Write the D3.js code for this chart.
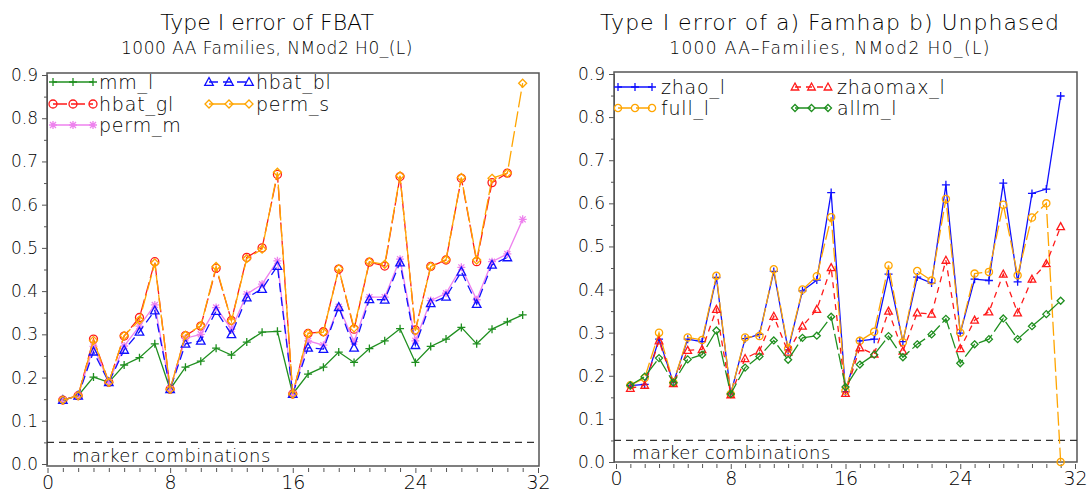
<!DOCTYPE html>
<html>
<head>
<meta charset="utf-8">
<script src="https://cdn.jsdelivr.net/npm/d3@7"></script>
<style>
  html, body { margin: 0; padding: 0; background: #fff; }
  svg { display: block; }
  text { font-family: "DejaVu Sans", "Liberation Sans", sans-serif; font-weight: 200; fill: #000; }
</style>
</head>
<body>
<svg id="chart" width="1089" height="493"></svg>
<script>
// ---------------- data ----------------
const combos = [1,2,3,4,5,6,7,8,9,10,11,12,13,14,15,16,17,18,19,20,21,22,23,24,25,26,27,28,29,30,31];
const xTickValues = [0, 8, 16, 24, 32];
const yTickValues = [0.0, 0.1, 0.2, 0.3, 0.4, 0.5, 0.6, 0.7, 0.8, 0.9];
const alphaLevel = 0.05;

// Left panel: FBAT
const mm_l    = [0.148,0.158,0.201,0.189,0.229,0.246,0.278,0.173,0.224,0.238,0.268,0.252,0.282,0.305,0.307,0.162,0.208,0.224,0.259,0.235,0.267,0.285,0.313,0.235,0.272,0.289,0.316,0.278,0.312,0.329,0.345];
const hbat_gl = [0.148,0.158,0.289,0.189,0.296,0.339,0.468,0.173,0.297,0.319,0.453,0.332,0.478,0.500,0.670,0.162,0.302,0.306,0.451,0.312,0.467,0.458,0.665,0.310,0.457,0.472,0.661,0.468,0.651,0.673,null];
const hbat_bl = [0.148,0.158,0.260,0.189,0.264,0.306,0.355,0.173,0.278,0.285,0.354,0.300,0.385,0.405,0.458,0.162,0.269,0.266,0.363,0.269,0.381,0.380,0.466,0.275,0.372,0.387,0.445,0.370,0.461,0.478,null];
const perm_m  = [0.148,0.158,0.272,0.189,0.273,0.319,0.368,0.173,0.291,0.300,0.362,0.312,0.393,0.416,0.470,0.162,0.285,0.275,0.364,0.283,0.386,0.386,0.474,0.285,0.378,0.395,0.455,0.380,0.468,0.486,0.566];
const perm_s  = [0.148,0.158,0.286,0.189,0.297,0.333,0.465,0.173,0.298,0.320,0.457,0.331,0.475,0.497,0.675,0.162,0.302,0.305,0.452,0.315,0.468,0.462,0.667,0.308,0.457,0.473,0.663,0.472,0.661,0.673,0.881];

// Right panel: Famhap / Unphased
const zhao_l    = [0.177,0.180,0.285,0.184,0.285,0.279,0.428,0.158,0.286,0.296,0.442,0.260,0.397,0.422,0.625,0.163,0.281,0.285,0.436,0.279,0.429,0.415,0.643,0.299,0.424,0.421,0.647,0.418,0.623,0.633,0.849];
const full_l    = [0.178,0.195,0.300,0.184,0.289,0.283,0.432,0.158,0.289,0.292,0.447,0.263,0.400,0.431,0.568,0.165,0.281,0.302,0.456,0.278,0.443,0.421,0.610,0.300,0.437,0.441,0.597,0.433,0.567,0.600,0.000];
const zhaomax_l = [0.171,0.178,0.281,0.182,0.259,0.261,0.354,0.156,0.240,0.257,0.338,0.255,0.315,0.354,0.451,0.159,0.265,0.250,0.350,0.257,0.346,0.343,0.468,0.263,0.329,0.348,0.436,0.346,0.424,0.460,0.546];
const allm_l    = [0.178,0.198,0.241,0.184,0.238,0.249,0.305,0.158,0.219,0.245,0.282,0.237,0.288,0.293,0.337,0.174,0.226,0.249,0.292,0.243,0.273,0.296,0.332,0.229,0.273,0.285,0.333,0.285,0.315,0.343,0.374];

const leftTitle = "Type I error of FBAT";
const leftSubtitle = "1000 AA Families, NMod2 H0_(L)";
const rightTitle = "Type I error of a) Famhap b) Unphased";
const rightSubtitle = "1000 AA\u2013Families, NMod2 H0_(L)";
const xLabelText = "marker combinations";

// ---------------- styling ----------------
const C = {green:"#1f8f1f", red:"#ff1a1a", blue:"#1010ff", violet:"#ee82ee", orange:"#ffa500"};

const svg = d3.select("#chart");

function markerPath(type, s) {
  const p = d3.path();
  if (type === "plus") {
    p.moveTo(-s,0); p.lineTo(s,0); p.moveTo(0,-s); p.lineTo(0,s);
  } else if (type === "star") {
    p.moveTo(-s,0); p.lineTo(s,0); p.moveTo(0,-s); p.lineTo(0,s);
    const d = s*0.75;
    p.moveTo(-d,-d); p.lineTo(d,d); p.moveTo(-d,d); p.lineTo(d,-d);
  } else if (type === "circle") {
    p.moveTo(s,0); p.arc(0,0,s,0,2*Math.PI);
  } else if (type === "triangle") {
    p.moveTo(0,-s); p.lineTo(s*0.95,s*0.75); p.lineTo(-s*0.95,s*0.75); p.closePath();
  } else if (type === "diamond") {
    p.moveTo(0,-s); p.lineTo(s,0); p.lineTo(0,s); p.lineTo(-s,0); p.closePath();
  }
  return p.toString();
}

function drawPanel(cfg) {
  const g = svg.append("g");
  const x = d3.scaleLinear().domain([0, 32]).range([cfg.x0, cfg.x1]);
  const y = d3.scaleLinear().domain([0, 0.9]).range([cfg.y0, cfg.y9]);

  // titles
  g.append("text").attr("x", cfg.titleX).attr("y", 30).attr("text-anchor", "middle")
    .style("font-size", "22px").style("letter-spacing", cfg.titleLS).text(cfg.title);
  g.append("text").attr("x", cfg.titleX).attr("y", 54).attr("text-anchor", "middle")
    .style("font-size", "17px").style("letter-spacing", cfg.subLS).text(cfg.subtitle);

  // frame
  g.append("rect").attr("x", cfg.fx0).attr("y", cfg.fy0)
    .attr("width", cfg.fx1 - cfg.fx0).attr("height", cfg.fy1 - cfg.fy0)
    .attr("fill", "none").attr("stroke", "#555").attr("stroke-width", 1.5);

  // y axis
  const yAxis = d3.axisLeft(y).tickValues(yTickValues).tickFormat(cfg.yFmt).tickSize(5).tickPadding(4);
  const ya = g.append("g").attr("transform", `translate(${cfg.fx0},0)`).call(yAxis);
  ya.select(".domain").attr("stroke", "#555");
  ya.selectAll(".tick line").attr("stroke", "#555");
  ya.selectAll("text").style("font-size", "17px").attr("fill", "#000")
    .style("font-family", "DejaVu Sans, sans-serif").style("font-weight", "200");
  const yMinor = d3.axisLeft(y).tickValues(yTickValues.map(v => v + 0.05).filter(v => v < 0.9)).tickFormat("").tickSize(3);
  const ym = g.append("g").attr("transform", `translate(${cfg.fx0},0)`).call(yMinor);
  ym.select(".domain").remove();
  ym.selectAll(".tick line").attr("stroke", "#555");

  // x axis (detached below frame)
  const xAxis = d3.axisBottom(x).tickValues(xTickValues).tickFormat(d3.format("d")).tickSize(5).tickPadding(3);
  const xa = g.append("g").attr("transform", `translate(0,${cfg.fy1 + 2})`).call(xAxis);
  xa.select(".domain").remove();
  xa.selectAll(".tick line").attr("stroke", "#555");
  xa.selectAll("text").style("font-size", "19px").attr("fill", "#000")
    .style("font-family", "DejaVu Sans, sans-serif").style("font-weight", "200");
  const xMinor = d3.axisBottom(x).tickValues(d3.range(0, 33).filter(v => v % 8 !== 0)).tickFormat("").tickSize(4);
  const xm = g.append("g").attr("transform", `translate(0,${cfg.fy1 + 2})`).call(xMinor);
  xm.select(".domain").remove();
  xm.selectAll(".tick line").attr("stroke", "#555");

  // alpha reference line
  g.append("line").attr("x1", cfg.fx0).attr("x2", cfg.fx1)
    .attr("y1", y(alphaLevel)).attr("y2", y(alphaLevel))
    .attr("stroke", "#333").attr("stroke-width", 1.2).attr("stroke-dasharray", "7,5");

  g.append("text").attr("x", cfg.fx0 + cfg.labelOff).attr("y", cfg.labelY)
    .style("font-size", "18px").style("letter-spacing", "0.4px").text(xLabelText);

  // series
  cfg.series.forEach(s => {
    const pts = combos.map((c, i) => ({c, v: s.values[i]})).filter(d => d.v !== null);
    const line = d3.line().x(d => x(d.c)).y(d => y(d.v));
    g.append("path").datum(pts).attr("d", line).attr("fill", "none")
      .attr("stroke", s.color).attr("stroke-width", 1.3)
      .attr("stroke-dasharray", s.dash || null);
    g.selectAll(null).data(pts).enter().append("path")
      .attr("transform", d => `translate(${x(d.c)},${y(d.v)})`)
      .attr("d", markerPath(s.marker, s.ms))
      .attr("fill", "none").attr("stroke", s.color).attr("stroke-width", 1.3);
  });

  // legend
  cfg.series.forEach(s => {
    const L = s.legend;
    const lg = g.append("g");
    lg.append("line").attr("x1", L.x1).attr("x2", L.x2).attr("y1", L.y).attr("y2", L.y)
      .attr("stroke", s.color).attr("stroke-width", 1.3).attr("stroke-dasharray", s.dash || null);
    [L.x1, (L.x1 + L.x2) / 2, L.x2].forEach(mx => {
      lg.append("path").attr("transform", `translate(${mx},${L.y})`)
        .attr("d", markerPath(s.marker, s.ms)).attr("fill", "none")
        .attr("stroke", s.color).attr("stroke-width", 1.3);
    });
    lg.append("text").attr("x", L.tx).attr("y", L.y).attr("dy", "0.36em")
      .style("font-size", "19px").style("letter-spacing", "0.8px").text(s.name);
  });
}

drawPanel({
  title: leftTitle, subtitle: leftSubtitle, titleX: 267, titleLS: "0px", subLS: "0.5px",
  x0: 47.5, x1: 538, y0: 464, y9: 75,
  fx0: 47, fx1: 539, fy0: 73, fy1: 466,
  yFmt: d3.format(".1f"), labelOff: 25, labelY: 462,
  series: [
    {name: "mm_l", values: mm_l, color: C.green, marker: "plus", ms: 4, dash: null,
     legend: {x1: 53, x2: 93, y: 82, tx: 99}},
    {name: "hbat_gl", values: hbat_gl, color: C.red, marker: "circle", ms: 4, dash: "14,4",
     legend: {x1: 53, x2: 93, y: 104, tx: 99}},
    {name: "perm_m", values: perm_m, color: C.violet, marker: "star", ms: 4, dash: null,
     legend: {x1: 53, x2: 93, y: 125, tx: 99}},
    {name: "hbat_bl", values: hbat_bl, color: C.blue, marker: "triangle", ms: 4.5, dash: "9,5",
     legend: {x1: 209, x2: 249, y: 82, tx: 256}},
    {name: "perm_s", values: perm_s, color: C.orange, marker: "diamond", ms: 4, dash: "16,4",
     legend: {x1: 209, x2: 249, y: 104, tx: 256}}
  ]
});

drawPanel({
  title: rightTitle, subtitle: rightSubtitle, titleX: 830, titleLS: "1px", subLS: "1.4px",
  x0: 616, x1: 1075, y0: 462, y9: 74,
  fx0: 614, fx1: 1077, fy0: 72, fy1: 462,
  yFmt: d3.format(".1f"), labelOff: 18, labelY: 459,
  series: [
    {name: "zhao_l", values: zhao_l, color: C.blue, marker: "plus", ms: 4, dash: null,
     legend: {x1: 618, x2: 652, y: 87, tx: 661}},
    {name: "full_l", values: full_l, color: C.orange, marker: "circle", ms: 3.6, dash: "14,4",
     legend: {x1: 618, x2: 652, y: 108, tx: 661}},
    {name: "zhaomax_l", values: zhaomax_l, color: C.red, marker: "triangle", ms: 4, dash: "6,5",
     legend: {x1: 795, x2: 828, y: 87, tx: 837}},
    {name: "allm_l", values: allm_l, color: C.green, marker: "diamond", ms: 3.5, dash: "16,4",
     legend: {x1: 795, x2: 828, y: 108, tx: 837}}
  ]
});
</script>
</body>
</html>
